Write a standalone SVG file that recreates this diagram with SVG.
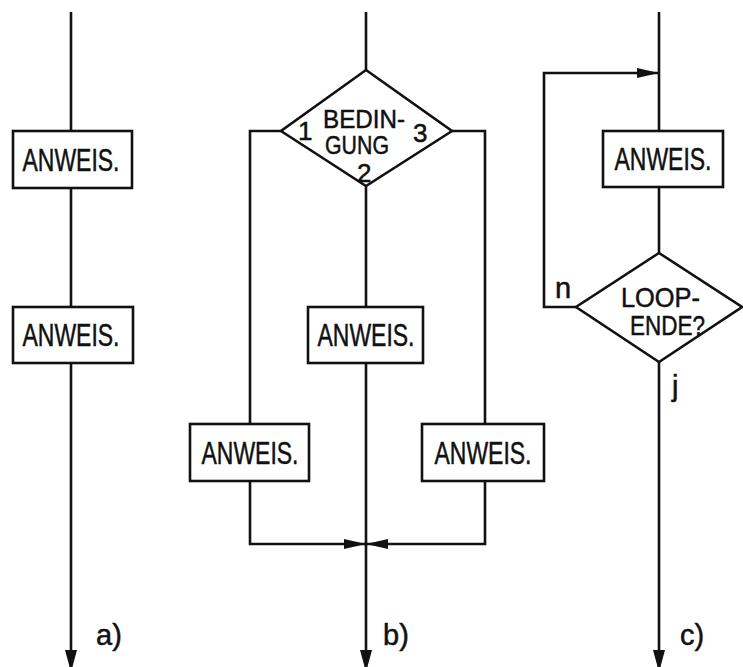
<svg xmlns="http://www.w3.org/2000/svg" width="743" height="667" viewBox="0 0 743 667">
<style>
.ln{fill:none;stroke:#111;stroke-width:2.6;stroke-linejoin:miter}
.bx{fill:#fff;stroke:#111;stroke-width:2.6}
.t{font-family:"Liberation Sans",Arial,sans-serif;fill:#111;stroke:#111;stroke-width:0.5}
.b{font-size:32px;text-anchor:middle}
.d{font-size:26px}
.l{font-size:29px}
</style>
<defs>
<marker id="ah" markerUnits="userSpaceOnUse" viewBox="0 0 22 10" refX="22" refY="5" markerWidth="22" markerHeight="10" orient="auto">
<path d="M0,0 L22,5 L0,10 Z" fill="#111"/>
</marker>
<marker id="ahb" markerUnits="userSpaceOnUse" viewBox="0 0 22 12" refX="22" refY="6" markerWidth="22" markerHeight="12" orient="auto">
<path d="M0,0 L22,6 L0,12 Z" fill="#111"/>
</marker>
</defs>
<rect width="743" height="667" fill="#fff"/>
<g id="connectors">
<path class="ln" d="M71,12 V131 M71,188 V307"/>
<path class="ln" d="M71,363 V672" marker-end="url(#ahb)"/>
<path class="ln" d="M366,12 V70 M281,131 H250 V424 M452,131 H485 V424 M366,186 V307"/>
<path class="ln" d="M250,481 V544 H366" marker-end="url(#ah)"/>
<path class="ln" d="M485,481 V544 H366" marker-end="url(#ah)"/>
<path class="ln" d="M366,363 V672" marker-end="url(#ahb)"/>
<path class="ln" d="M659,12 V131 M659,187 V253"/>
<path class="ln" d="M576,307 H544 V73 H659" marker-end="url(#ah)"/>
<path class="ln" d="M659,362 V672" marker-end="url(#ahb)"/>
</g>
<g id="a1"><rect class="bx" x="13" y="131" width="119" height="57"/><text class="t b" x="71" y="171" textLength="97" lengthAdjust="spacingAndGlyphs">ANWEIS.</text></g>
<g id="a2"><rect class="bx" x="13" y="307" width="120" height="56"/><text class="t b" x="71" y="346" textLength="97" lengthAdjust="spacingAndGlyphs">ANWEIS.</text></g>
<g id="bcond"><path class="bx" d="M366,70 L452,131 L366,186 L281,131 Z"/>
<text class="t d" x="323" y="128" textLength="82" lengthAdjust="spacingAndGlyphs">BEDIN-</text>
<text class="t d" x="325" y="154" textLength="64" lengthAdjust="spacingAndGlyphs">GUNG</text>
<text class="t d" x="298" y="140">1</text>
<text class="t d" x="413" y="142">3</text>
<text class="t d" x="357" y="182">2</text></g>
<g id="bmid"><rect class="bx" x="308" y="307" width="115" height="56"/><text class="t b" x="366" y="346" textLength="97" lengthAdjust="spacingAndGlyphs">ANWEIS.</text></g>
<g id="bleft"><rect class="bx" x="190" y="424" width="119" height="57"/><text class="t b" x="250" y="464" textLength="97" lengthAdjust="spacingAndGlyphs">ANWEIS.</text></g>
<g id="bright"><rect class="bx" x="422" y="424" width="122" height="57"/><text class="t b" x="483" y="464" textLength="97" lengthAdjust="spacingAndGlyphs">ANWEIS.</text></g>
<g id="c1"><rect class="bx" x="603" y="131" width="120" height="56"/><text class="t b" x="663" y="170" textLength="97" lengthAdjust="spacingAndGlyphs">ANWEIS.</text></g>
<g id="ccond"><path class="bx" d="M659,253 L742,307 L659,362 L576,307 Z"/>
<text class="t" style="font-size:28px" x="621" y="307" textLength="79" lengthAdjust="spacingAndGlyphs">LOOP-</text>
<text class="t" style="font-size:28px" x="630" y="335" textLength="75" lengthAdjust="spacingAndGlyphs">ENDE?</text></g>
<g id="labels">
<text class="t l" x="555" y="298">n</text>
<text class="t l" x="672" y="396">j</text>
<text class="t l" x="96" y="645">a)</text>
<text class="t l" x="383" y="645">b)</text>
<text class="t l" x="680" y="645">c)</text>
</g>
</svg>
